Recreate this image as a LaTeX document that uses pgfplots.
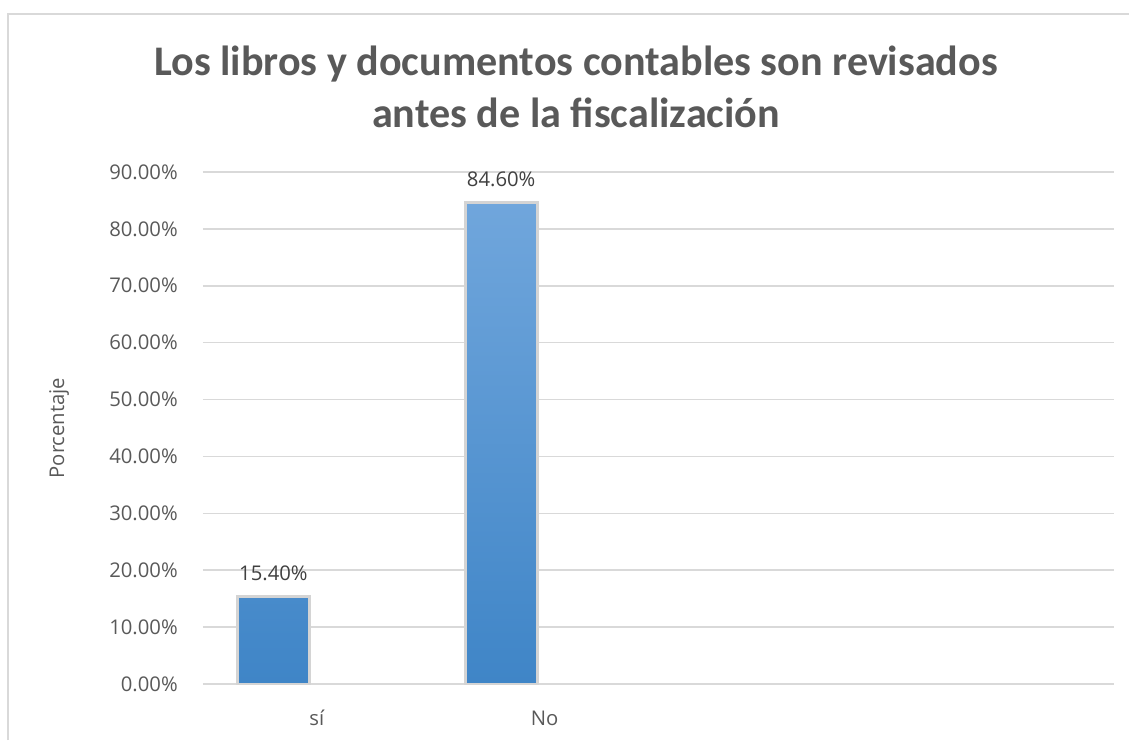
\documentclass[border=0pt]{standalone}
\usepackage{fontspec}
\setmainfont{Open Sans}
\newfontfamily\titlefont{Carlito}
\usepackage{pgfplots}
\pgfplotsset{compat=1.18}
\definecolor{gridc}{HTML}{D9D9D9}
\definecolor{txt}{HTML}{595959}
\definecolor{lbl}{HTML}{404040}
\definecolor{bartop}{HTML}{70A6DC}
\definecolor{barbot}{HTML}{3F85C7}
\definecolor{shadowc}{HTML}{D4D4D4}
\begin{document}
\begin{tikzpicture}
\useasboundingbox (-152.25pt,-42pt) rectangle (694.5pt,513pt);
\draw[gridc, line width=1.1pt] (-146.25pt,-42pt) -- (-146.25pt,502.5pt) -- (694.5pt,502.5pt);
\begin{axis}[
  at={(0,0)}, anchor=south west,
  scale only axis,
  width=683.25pt, height=384pt,
  xmin=-0.5, xmax=3.5,
  ymin=0, ymax=90,
  xtick={0,1}, xticklabels={sí, No},
  ytick={0,10,...,90},
  yticklabel={\pgfmathprintnumber[fixed,fixed zerofill,precision=2]{\tick}\%},
  /pgf/number format/assume math mode=true,
  axis line style={draw=none},
  major tick length=0pt,
  ymajorgrids,
  major grid style={gridc, line width=1.1pt},
  ticklabel style={font=\fontsize{15.2pt}{18pt}\selectfont, text=txt},
  yticklabel style={anchor=east, inner sep=0pt, xshift=-18.75pt},
  xticklabel style={anchor=base, inner sep=0pt, yshift=-30.75pt},
  ylabel={Porcentaje},
  ylabel style={at={(axis description cs:-0.158,0.5)}, anchor=center,
    font=\fontsize{15.2pt}{18pt}\selectfont, text=txt, inner sep=0pt},
  clip=false,
]
\addplot[ybar, bar width=54pt, bar shift=-32.6pt,
  top color=bartop, bottom color=barbot, draw=shadowc, line width=2.2pt,
  nodes near coords={\pgfmathprintnumber[fixed,fixed zerofill,precision=2]{\pgfplotspointmeta}\%},
  every node near coord/.append style={anchor=base, xshift=-32.6pt, yshift=12pt, inner sep=0pt,
    font=\fontsize{15.2pt}{18pt}\selectfont, text=lbl},
] coordinates {(0,15.4) (1,84.6)};
\end{axis}
\node[anchor=base, inner sep=0pt, text=txt, font=\titlefont\bfseries\fontsize{31.6pt}{38pt}\selectfont] at (279.75pt,456pt) {Los libros y documentos contables son revisados};
\node[anchor=base, inner sep=0pt, text=txt, font=\titlefont\bfseries\fontsize{31.6pt}{38pt}\selectfont] at (279.75pt,417pt) {antes de la fiscalización};
\end{tikzpicture}
\end{document}
